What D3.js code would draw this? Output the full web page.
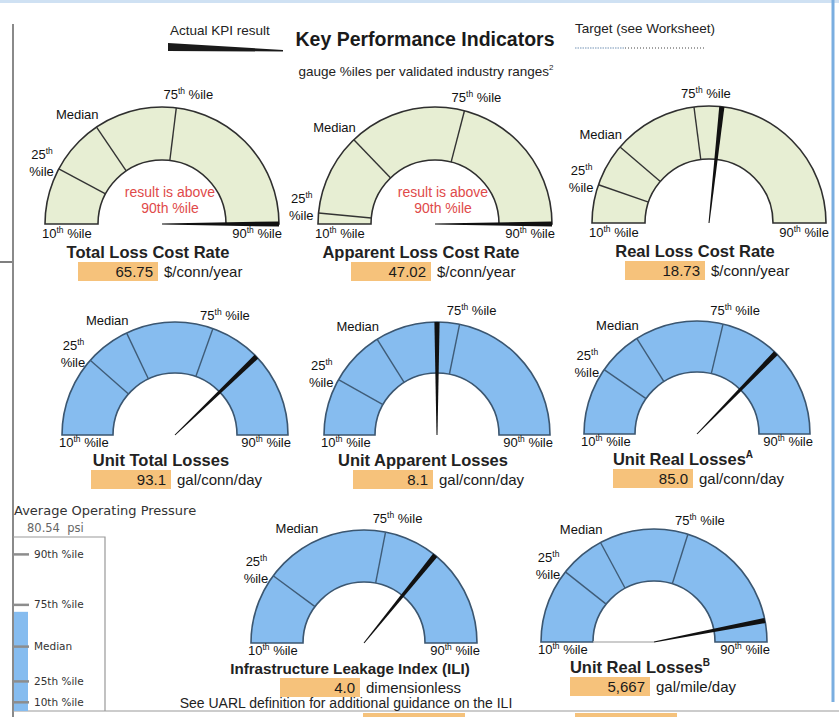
<!DOCTYPE html>
<html>
<head>
<meta charset="utf-8">
<script src="https://cdn.jsdelivr.net/npm/d3@7"></script>
<style>
  body { margin: 0; background: #fff; }
  svg { display: block; font-family: "Liberation Sans", Arial, sans-serif; }
</style>
</head>
<body>
<svg id="chart" width="839" height="717"></svg>
<script>
// KPI gauges. Positions on the dial are 0 (10th %ile) .. 1 (90th %ile)
const gaugeTitles = ['Total Loss Cost Rate', 'Apparent Loss Cost Rate', 'Real Loss Cost Rate',
  'Unit Total Losses', 'Unit Apparent Losses', 'Unit Real Losses',
  'Infrastructure Leakage Index (ILI)', 'Unit Real Losses'];
const titleNotes = ['', '', '', '', '', 'A', '', 'B'];
const resultValues = ['65.75', '47.02', '18.73', '93.1', '8.1', '85.0', '4.0', '5,667'];
const resultUnits = ['$/conn/year', '$/conn/year', '$/conn/year',
  'gal/conn/day', 'gal/conn/day', 'gal/conn/day', 'dimensionless', 'gal/mile/day'];
const pos25 = [0.156, 0.03, 0.106, 0.23, 0.163, 0.193, 0.203, 0.213];
const posMedian = [0.311, 0.256, 0.225, 0.359, 0.322, 0.321, 0.361, 0.343];
const pos75 = [0.539, 0.581, 0.459, 0.609, 0.564, 0.574, 0.561, 0.597];
const needlePos = [1.0, 1.0, 0.535, 0.756, 0.5, 0.746, 0.717, 0.939];
const medianDivider = [true, true, true, true, true, true, false, true];
const aboveNote = [true, true, false, false, false, false, false, false];

// average operating pressure bar
const pressureValue = '80.54';
const pressureLabels = ['10th %ile', '25th %ile', 'Median', '75th %ile', '90th %ile'];
const pressureMarks = [0.05, 0.17, 0.37, 0.61, 0.9];
const pressureLevel = 0.57;

// where each gauge sits on the page
const layout = [
  { cx: 162, cy: 224, r: 117, ri: 64, style: 'green', row: 0 },
  { cx: 435, cy: 224, r: 117, ri: 64, style: 'green', row: 0 },
  { cx: 709, cy: 223, r: 117, ri: 64, style: 'green', row: 0 },
  { cx: 175, cy: 435, r: 113, ri: 62, style: 'blue', row: 1 },
  { cx: 437, cy: 435, r: 113, ri: 62, style: 'blue', row: 1 },
  { cx: 697, cy: 434, r: 113, ri: 62, style: 'blue', row: 1 },
  { cx: 364, cy: 643, r: 113, ri: 61, style: 'blue', row: 2 },
  { cx: 654, cy: 642, r: 113, ri: 61, style: 'blue', row: 2 }
];
const styles = {
  green: { fill: '#e7eed3', stroke: '#2f2f2f', divider: '#333' },
  blue: { fill: '#86bcef', stroke: '#3b5670', divider: '#3f5c78' }
};

const svg = d3.select('#chart');
const angle = d3.scaleLinear().domain([0, 1]).range([-Math.PI / 2, Math.PI / 2]);
const LABEL = 13;

// page frame
svg.append('rect').attr('x', 0).attr('y', 0).attr('width', 839).attr('height', 3).attr('fill', '#cfe1f3');
svg.append('line').attr('x1', 13).attr('x2', 13).attr('y1', 24).attr('y2', 717)
  .attr('stroke', '#8a8a8a').attr('stroke-width', 2);
svg.append('line').attr('x1', 0).attr('x2', 12).attr('y1', 262).attr('y2', 262)
  .attr('stroke', '#555').attr('stroke-width', 1.5);
svg.append('line').attr('x1', 833).attr('x2', 833).attr('y1', 0).attr('y2', 702)
  .attr('stroke', '#7aaee0').attr('stroke-width', 3);
svg.append('line').attr('x1', 13).attr('x2', 839).attr('y1', 711).attr('y2', 711)
  .attr('stroke', '#999').attr('stroke-width', 1);
[[363, 465], [575, 677]].forEach(([a, b]) => {
  svg.append('rect').attr('x', a).attr('y', 713).attr('width', b - a).attr('height', 4).attr('fill', '#f5c27c');
});

// header
svg.append('text').attr('x', 170).attr('y', 35).attr('font-size', 13.5).attr('fill', '#222').text('Actual KPI result');
svg.append('polygon').attr('points', '168,43 283,50 283,51.5 168,51').attr('fill', '#1a1a1a');
svg.append('text').attr('x', 425).attr('y', 46).attr('text-anchor', 'middle')
  .attr('font-size', 19.5).attr('font-weight', 'bold').attr('fill', '#1a1a1a').text('Key Performance Indicators');
const sub = svg.append('text').attr('x', 426).attr('y', 76).attr('text-anchor', 'middle')
  .attr('font-size', 13.5).attr('fill', '#222');
sub.append('tspan').text('gauge %iles per validated industry ranges');
sub.append('tspan').attr('dy', -6).attr('font-size', 8).text('2');
svg.append('text').attr('x', 575).attr('y', 33).attr('font-size', 13.5).attr('fill', '#222').text('Target (see Worksheet)');
svg.append('line').attr('x1', 575).attr('x2', 625).attr('y1', 48).attr('y2', 48)
  .attr('stroke', '#b9c9da').attr('stroke-width', 2).attr('stroke-dasharray', '1.5,1');
svg.append('line').attr('x1', 625).attr('x2', 706).attr('y1', 48).attr('y2', 48)
  .attr('stroke', '#444').attr('stroke-width', 1).attr('stroke-dasharray', '1,2');

// text with a "th" superscript after the number
const ordinalText = (g, x, y, num, rest, anchor) => {
  const t = g.append('text').attr('x', x).attr('y', y).attr('text-anchor', anchor)
    .attr('font-size', LABEL).attr('fill', '#111');
  t.append('tspan').text(num);
  t.append('tspan').attr('dy', -5).attr('font-size', 8.5).text('th');
  if (rest) t.append('tspan').attr('dy', 5).text(rest);
  return t;
};

const polar = (cx, cy, r, a) => [cx + r * Math.sin(a), cy - r * Math.cos(a)];

layout.forEach((L, i) => {
  const st = styles[L.style];
  const g = svg.append('g');

  g.append('path')
    .attr('d', d3.arc().innerRadius(L.ri).outerRadius(L.r).startAngle(angle(0)).endAngle(angle(1))())
    .attr('transform', `translate(${L.cx},${L.cy})`)
    .attr('fill', st.fill).attr('stroke', st.stroke).attr('stroke-width', 1.6);

  const dividers = [pos25[i], posMedian[i], pos75[i]].filter((d, k) => k !== 1 || medianDivider[i]);
  dividers.forEach(p => {
    const [x1, y1] = polar(L.cx, L.cy, L.ri, angle(p));
    const [x2, y2] = polar(L.cx, L.cy, L.r, angle(p));
    g.append('line').attr('x1', x1).attr('y1', y1).attr('x2', x2).attr('y2', y2)
      .attr('stroke', st.divider).attr('stroke-width', 1.4);
  });

  // percentile labels
  const endY = L.cy + (L.row === 0 ? 14 : 12);
  const [x25, y25] = polar(L.cx, L.cy, L.r, angle(pos25[i]));
  ordinalText(g, x25 - 6, y25 - 10, '25', '', 'end');
  g.append('text').attr('x', x25 - 5).attr('y', y25 + 7).attr('text-anchor', 'end')
    .attr('font-size', LABEL).attr('fill', '#111').text('%ile');
  const [xm, ym] = polar(L.cx, L.cy, L.r, angle(posMedian[i]));
  g.append('text').attr('x', xm + 2).attr('y', ym - 8).attr('text-anchor', 'end')
    .attr('font-size', LABEL).attr('fill', '#111').text('Median');
  const [x75, y75] = polar(L.cx, L.cy, L.r, angle(pos75[i]));
  ordinalText(g, x75 + 12, y75 - 9, '75', ' %ile', 'middle');
  ordinalText(g, L.cx - L.r - 3, endY, '10', ' %ile', 'start');
  ordinalText(g, L.cx + L.r + 3, endY, '90', ' %ile', 'end');

  // needle: thin at hub, wider at the rim
  const a = angle(needlePos[i]);
  const px = Math.cos(a), py = Math.sin(a);
  const [tx, ty] = polar(L.cx, L.cy, L.r, a);
  const hw = 2.6;
  g.append('polygon')
    .attr('points', [
      [L.cx + px * 0.5, L.cy + py * 0.5], [tx + px * hw, ty + py * hw],
      [tx - px * hw, ty - py * hw], [L.cx - px * 0.5, L.cy - py * 0.5]
    ].map(p => p.join(',')).join(' '))
    .attr('fill', '#111');

  if (i === 7) {
    g.append('line').attr('x1', L.cx - L.ri).attr('x2', L.cx).attr('y1', L.cy).attr('y2', L.cy)
      .attr('stroke', '#bbb').attr('stroke-width', 1.5);
  }

  if (aboveNote[i]) {
    g.append('text').attr('x', L.cx + 8).attr('y', L.cy - 27).attr('text-anchor', 'middle')
      .attr('font-size', 14).attr('fill', '#e04a4a').text('result is above');
    g.append('text').attr('x', L.cx + 8).attr('y', L.cy - 11).attr('text-anchor', 'middle')
      .attr('font-size', 14).attr('fill', '#e04a4a').text('90th %ile');
  }

  // title and result box
  const tc = L.cx - 14;
  const rowOff = L.row === 0 ? 34 : 31;
  const title = g.append('text').attr('x', tc).attr('y', L.cy + rowOff).attr('text-anchor', 'middle')
    .attr('font-size', gaugeTitles[i].length > 26 ? 15.2 : 16.5).attr('font-weight', 'bold').attr('fill', '#222');
  title.append('tspan').text(gaugeTitles[i]);
  if (titleNotes[i]) title.append('tspan').attr('dy', -7).attr('font-size', 10).text(titleNotes[i]);

  const by = L.cy + rowOff + 4;
  g.append('rect').attr('x', tc - 70).attr('y', by).attr('width', 80).attr('height', 19).attr('fill', '#f6c27b');
  g.append('text').attr('x', tc + 5).attr('y', by + 15).attr('text-anchor', 'end')
    .attr('font-size', 15).attr('fill', '#1a1a1a').text(resultValues[i]);
  g.append('text').attr('x', tc + 16).attr('y', by + 15)
    .attr('font-size', 15).attr('fill', '#1a1a1a').text(resultUnits[i]);
});

svg.append('text').attr('x', 346).attr('y', 708).attr('text-anchor', 'middle')
  .attr('font-size', 14).attr('fill', '#222').text('See UARL definition for additional guidance on the ILI');

// average operating pressure panel
svg.append('text').attr('x', 14).attr('y', 515).attr('font-size', 13)
  .attr('font-family', '"DejaVu Sans", sans-serif').attr('fill', '#333').text('Average Operating Pressure');
svg.append('text').attr('x', 27).attr('y', 532).attr('font-size', 11.5)
  .attr('font-family', '"DejaVu Sans", sans-serif').attr('fill', '#666').attr('xml:space', 'preserve')
  .text(`${pressureValue}  psi`);
svg.append('path').attr('d', 'M13,537 H105 V711').attr('fill', 'none').attr('stroke', '#999').attr('stroke-width', 1.2);

const py = d3.scaleLinear().domain([0, 1]).range([711, 537]);
svg.append('rect').attr('x', 14).attr('y', py(pressureLevel)).attr('width', 14)
  .attr('height', py(0) - py(pressureLevel)).attr('fill', '#86bcef');
pressureLabels.forEach((lab, k) => {
  const y = py(pressureMarks[k]);
  svg.append('line').attr('x1', 13).attr('x2', 29).attr('y1', y).attr('y2', y)
    .attr('stroke', '#8d8d8d').attr('stroke-width', 2.5);
  svg.append('text').attr('x', 34).attr('y', y + 3.5).attr('font-size', 10.5)
    .attr('font-family', '"DejaVu Sans", sans-serif').attr('fill', '#333').text(lab);
});
</script>
</body>
</html>
